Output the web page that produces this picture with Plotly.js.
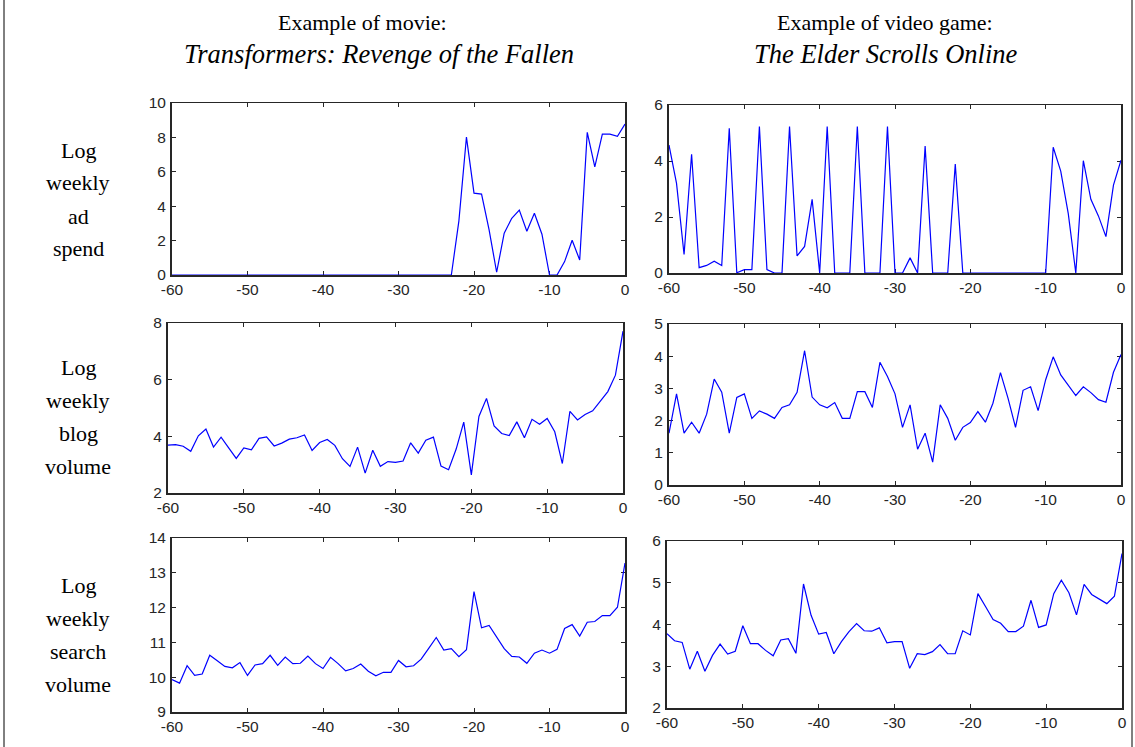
<!DOCTYPE html>
<html>
<head>
<meta charset="utf-8">
<script src="https://cdn.plot.ly/plotly-3.0.1.min.js"></script>
<style>html,body{margin:0;padding:0;background:#fff;}#chart{width:1135px;height:747px;}</style>
</head>
<body>
<div id="chart"></div>
<script>
// ---------- data ----------
const weeks = [-60,-59,-58,-57,-56,-55,-54,-53,-52,-51,-50,-49,-48,-47,-46,-45,-44,-43,-42,-41,
  -40,-39,-38,-37,-36,-35,-34,-33,-32,-31,-30,-29,-28,-27,-26,-25,-24,-23,-22,-21,
  -20,-19,-18,-17,-16,-15,-14,-13,-12,-11,-10,-9,-8,-7,-6,-5,-4,-3,-2,-1,0];

const movieAdSpend = [0,0,0,0,0,0,0,0,0,0, 0,0,0,0,0,0,0,0,0,0,
  0,0,0,0,0,0,0,0,0,0, 0,0,0,0,0,0,0,0,3.15,8.02,
  4.76,4.7,2.62,0.16,2.43,3.3,3.77,2.54,3.59,2.37,
  0,0,0.78,2.02,0.87,8.29,6.29,8.19,8.19,8.06,8.78];

const gameAdSpend = [4.57,3.2,0.66,4.24,0.19,0.27,0.42,0.27,5.17,0.01,
  0.12,0.12,5.23,0.12,0,0,5.23,0.61,0.95,2.63,
  0,5.23,0,0,0,5.23,0,0,0,5.23,
  0,0,0.54,0,4.53,0,0,0,3.89,0,
  0,0,0,0,0,0,0,0,0,0,
  0,4.49,3.64,2.12,0,4.01,2.63,2.04,1.3,3.14,4.03];

const movieBlogVolume = [3.69,3.71,3.65,3.47,4.02,4.26,3.62,3.97,3.59,3.22,
  3.59,3.52,3.93,3.98,3.66,3.76,3.9,3.95,4.05,3.5,
  3.78,3.89,3.68,3.21,2.94,3.62,2.7,3.51,2.94,3.11,
  3.08,3.13,3.77,3.41,3.86,3.97,2.95,2.82,3.55,4.5,
  2.64,4.7,5.34,4.37,4.1,4.03,4.51,3.95,4.6,4.43,
  4.63,4.16,3.04,4.88,4.58,4.77,4.9,5.26,5.58,6.16,7.71];

const gameBlogVolume = [1.61,2.83,1.61,1.95,1.61,2.2,3.29,2.88,1.61,2.72,
  2.83,2.07,2.3,2.2,2.07,2.41,2.49,2.88,4.17,2.73,
  2.49,2.4,2.56,2.07,2.07,2.9,2.9,2.41,3.81,3.37,
  2.83,1.79,2.49,1.11,1.61,0.71,2.49,2.07,1.39,1.79,
  1.94,2.28,1.95,2.54,3.49,2.7,1.79,2.94,3.05,2.31,
  3.27,3.98,3.42,3.09,2.78,3.05,2.87,2.65,2.57,3.5,4.05];

const movieSearchVolume = [9.93,9.83,10.33,10.05,10.09,10.63,10.47,10.31,10.27,10.42,
  10.05,10.35,10.39,10.63,10.34,10.58,10.39,10.4,10.61,10.39,
  10.25,10.57,10.39,10.18,10.25,10.38,10.17,10.04,10.14,10.14,
  10.48,10.3,10.33,10.52,10.83,11.14,10.78,10.82,10.59,10.79,
  12.46,11.42,11.49,11.17,10.82,10.6,10.58,10.4,10.69,10.78,
  10.69,10.8,11.4,11.51,11.18,11.58,11.6,11.77,11.77,12.01,13.28];

const gameSearchVolume = [3.78,3.61,3.57,2.93,3.36,2.88,3.26,3.53,3.29,3.36,
  3.97,3.54,3.54,3.38,3.25,3.63,3.66,3.31,4.97,4.22,
  3.77,3.81,3.3,3.59,3.83,4.02,3.85,3.84,3.92,3.56,
  3.59,3.59,2.95,3.3,3.28,3.35,3.52,3.3,3.3,3.85,
  3.75,4.74,4.43,4.12,4.03,3.83,3.83,3.96,4.58,3.93,
  3.99,4.74,5.06,4.76,4.23,4.96,4.72,4.61,4.5,4.68,5.7];

const xTickVals = [-60,-50,-40,-30,-20,-10,0];
const yTicksMovieAd = [0,2,4,6,8,10];
const yTicksGameAd = [0,2,4,6];
const yTicksMovieBlog = [2,4,6,8];
const yTicksGameBlog = [0,1,2,3,4,5];
const yTicksMovieSearch = [9,10,11,12,13,14];
const yTicksGameSearch = [2,3,4,5,6];

const columnTitles = [["Example of movie:", "Transformers: Revenge of the Fallen"],
                      ["Example of video game:", "The Elder Scrolls Online"]];
const rowLabels = [["Log","weekly","ad","spend"],
                   ["Log","weekly","blog","volume"],
                   ["Log","weekly","search","volume"]];

// ---------- layout ----------
const W = 1135, H = 747;
const panels = [
  {y: movieAdSpend,      ticks: yTicksMovieAd,     box: [172, 625, 103, 275]},
  {y: gameAdSpend,       ticks: yTicksGameAd,      box: [669, 1121, 105, 273]},
  {y: movieBlogVolume,   ticks: yTicksMovieBlog,   box: [168, 623, 323, 493]},
  {y: gameBlogVolume,    ticks: yTicksGameBlog,    box: [669, 1121, 324, 485]},
  {y: movieSearchVolume, ticks: yTicksMovieSearch, box: [172, 625, 538, 712]},
  {y: gameSearchVolume,  ticks: yTicksGameSearch,  box: [667, 1122, 541, 708]}
];

const axisColor = '#262626';
const tickFont = {family: 'Liberation Sans, Arial, sans-serif', size: 15.5, color: axisColor};
const layout = {
  width: W, height: H,
  margin: {l: 0, r: 0, t: 0, b: 0},
  paper_bgcolor: '#fff', plot_bgcolor: '#fff',
  showlegend: false,
  annotations: [], shapes: []
};
const data = [];

panels.forEach((p, i) => {
  const n = i + 1;
  const sfx = (n === 1 ? '' : String(n));
  const [x0, x1, y0, y1] = p.box;
  layout['xaxis' + sfx] = {
    domain: [x0 / W, x1 / W], range: [-60, 0], anchor: 'y' + sfx,
    tickvals: xTickVals, ticktext: xTickVals.map(String),
    ticks: 'inside', ticklen: 4, tickcolor: axisColor, tickwidth: 1,
    showline: true, linecolor: axisColor, linewidth: 1.5, mirror: 'ticks',
    showgrid: false, zeroline: false, tickfont: tickFont, layer: 'below traces', fixedrange: true
  };
  const ymin = p.ticks[0], ymax = p.ticks[p.ticks.length - 1];
  layout['yaxis' + sfx] = {
    domain: [1 - y1 / H, 1 - y0 / H], range: [ymin, ymax], anchor: 'x' + sfx,
    tickvals: p.ticks, ticktext: p.ticks.map(String),
    ticks: 'inside', ticklen: 4, tickcolor: axisColor, tickwidth: 1, ticklabelstandoff: 1,
    showline: true, linecolor: axisColor, linewidth: 2, mirror: 'ticks',
    showgrid: false, zeroline: false, tickfont: tickFont, layer: 'below traces', fixedrange: true
  };
  data.push({
    type: 'scatter', mode: 'lines', x: weeks, y: p.y,
    xaxis: 'x' + sfx, yaxis: 'y' + sfx,
    line: {color: '#0000ff', width: 1.2}, hoverinfo: 'skip'
  });
});

// column titles
const serif = 'Liberation Serif, Times New Roman, serif';
const colCenters = [[362, 379], [885, 885]];
const titleY = [22, 54];
const titleSize = [22, 26.5];
columnTitles.forEach((lines, c) => {
  lines.forEach((t, k) => {
    layout.annotations.push({
      xref: 'paper', yref: 'paper', x: colCenters[c][k] / W, y: 1 - titleY[k] / H,
      xanchor: 'center', yanchor: 'middle', showarrow: false,
      text: k === 1 ? '<i>' + t + '</i>' : t,
      font: {family: serif, size: titleSize[k], color: '#000'}
    });
  });
});

// row labels
const rowCenters = [199.5, 417, 635];
rowLabels.forEach((lines, r) => {
  lines.forEach((t, k) => {
    const yy = rowCenters[r] + (k - 1.5) * 33;
    layout.annotations.push({
      xref: 'paper', yref: 'paper', x: 78 / W, y: 1 - yy / H,
      xanchor: 'center', yanchor: 'middle', showarrow: false,
      text: t, font: {family: serif, size: 22, color: '#000'}
    });
  });
});

// frame lines
layout.shapes.push({type: 'line', xref: 'paper', yref: 'paper', x0: 4 / W, x1: 4 / W, y0: 0, y1: 1,
  line: {color: '#000', width: 1}});
layout.shapes.push({type: 'line', xref: 'paper', yref: 'paper', x0: 1132 / W, x1: 1132 / W, y0: 0, y1: 1,
  line: {color: '#000', width: 1}});

Plotly.newPlot('chart', data, layout, {displayModeBar: false, staticPlot: true});
</script>
</body>
</html>
